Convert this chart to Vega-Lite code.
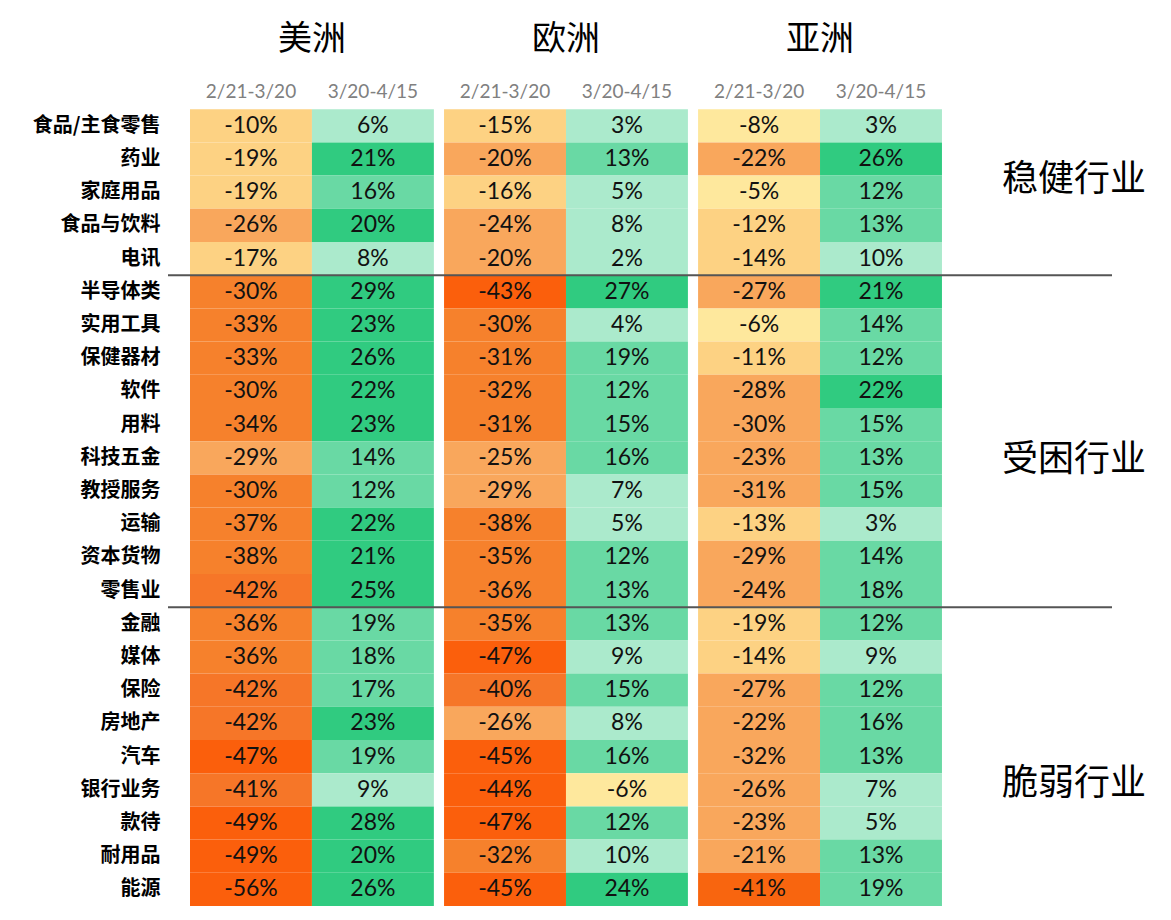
{
  "$schema": "https://vega.github.io/schema/vega-lite/v6.json",
  "width": 944,
  "height": 830,
  "autosize": {"type": "none"},
  "padding": {"left": 168, "top": 76, "right": 59, "bottom": 14},
  "background": "white",
  "config": {"view": {"stroke": null}},
  "datasets": {
    "cells": [
      {"industry":"食品/主食零售","region":"美洲","period":"2/21-3/20","value":-10},
      {"industry":"食品/主食零售","region":"美洲","period":"3/20-4/15","value":6},
      {"industry":"食品/主食零售","region":"欧洲","period":"2/21-3/20","value":-15},
      {"industry":"食品/主食零售","region":"欧洲","period":"3/20-4/15","value":3},
      {"industry":"食品/主食零售","region":"亚洲","period":"2/21-3/20","value":-8},
      {"industry":"食品/主食零售","region":"亚洲","period":"3/20-4/15","value":3},
      {"industry":"药业","region":"美洲","period":"2/21-3/20","value":-19},
      {"industry":"药业","region":"美洲","period":"3/20-4/15","value":21},
      {"industry":"药业","region":"欧洲","period":"2/21-3/20","value":-20},
      {"industry":"药业","region":"欧洲","period":"3/20-4/15","value":13},
      {"industry":"药业","region":"亚洲","period":"2/21-3/20","value":-22},
      {"industry":"药业","region":"亚洲","period":"3/20-4/15","value":26},
      {"industry":"家庭用品","region":"美洲","period":"2/21-3/20","value":-19},
      {"industry":"家庭用品","region":"美洲","period":"3/20-4/15","value":16},
      {"industry":"家庭用品","region":"欧洲","period":"2/21-3/20","value":-16},
      {"industry":"家庭用品","region":"欧洲","period":"3/20-4/15","value":5},
      {"industry":"家庭用品","region":"亚洲","period":"2/21-3/20","value":-5},
      {"industry":"家庭用品","region":"亚洲","period":"3/20-4/15","value":12},
      {"industry":"食品与饮料","region":"美洲","period":"2/21-3/20","value":-26},
      {"industry":"食品与饮料","region":"美洲","period":"3/20-4/15","value":20},
      {"industry":"食品与饮料","region":"欧洲","period":"2/21-3/20","value":-24},
      {"industry":"食品与饮料","region":"欧洲","period":"3/20-4/15","value":8},
      {"industry":"食品与饮料","region":"亚洲","period":"2/21-3/20","value":-12},
      {"industry":"食品与饮料","region":"亚洲","period":"3/20-4/15","value":13},
      {"industry":"电讯","region":"美洲","period":"2/21-3/20","value":-17},
      {"industry":"电讯","region":"美洲","period":"3/20-4/15","value":8},
      {"industry":"电讯","region":"欧洲","period":"2/21-3/20","value":-20},
      {"industry":"电讯","region":"欧洲","period":"3/20-4/15","value":2},
      {"industry":"电讯","region":"亚洲","period":"2/21-3/20","value":-14},
      {"industry":"电讯","region":"亚洲","period":"3/20-4/15","value":10},
      {"industry":"半导体类","region":"美洲","period":"2/21-3/20","value":-30},
      {"industry":"半导体类","region":"美洲","period":"3/20-4/15","value":29},
      {"industry":"半导体类","region":"欧洲","period":"2/21-3/20","value":-43},
      {"industry":"半导体类","region":"欧洲","period":"3/20-4/15","value":27},
      {"industry":"半导体类","region":"亚洲","period":"2/21-3/20","value":-27},
      {"industry":"半导体类","region":"亚洲","period":"3/20-4/15","value":21},
      {"industry":"实用工具","region":"美洲","period":"2/21-3/20","value":-33},
      {"industry":"实用工具","region":"美洲","period":"3/20-4/15","value":23},
      {"industry":"实用工具","region":"欧洲","period":"2/21-3/20","value":-30},
      {"industry":"实用工具","region":"欧洲","period":"3/20-4/15","value":4},
      {"industry":"实用工具","region":"亚洲","period":"2/21-3/20","value":-6},
      {"industry":"实用工具","region":"亚洲","period":"3/20-4/15","value":14},
      {"industry":"保健器材","region":"美洲","period":"2/21-3/20","value":-33},
      {"industry":"保健器材","region":"美洲","period":"3/20-4/15","value":26},
      {"industry":"保健器材","region":"欧洲","period":"2/21-3/20","value":-31},
      {"industry":"保健器材","region":"欧洲","period":"3/20-4/15","value":19},
      {"industry":"保健器材","region":"亚洲","period":"2/21-3/20","value":-11},
      {"industry":"保健器材","region":"亚洲","period":"3/20-4/15","value":12},
      {"industry":"软件","region":"美洲","period":"2/21-3/20","value":-30},
      {"industry":"软件","region":"美洲","period":"3/20-4/15","value":22},
      {"industry":"软件","region":"欧洲","period":"2/21-3/20","value":-32},
      {"industry":"软件","region":"欧洲","period":"3/20-4/15","value":12},
      {"industry":"软件","region":"亚洲","period":"2/21-3/20","value":-28},
      {"industry":"软件","region":"亚洲","period":"3/20-4/15","value":22},
      {"industry":"用料","region":"美洲","period":"2/21-3/20","value":-34},
      {"industry":"用料","region":"美洲","period":"3/20-4/15","value":23},
      {"industry":"用料","region":"欧洲","period":"2/21-3/20","value":-31},
      {"industry":"用料","region":"欧洲","period":"3/20-4/15","value":15},
      {"industry":"用料","region":"亚洲","period":"2/21-3/20","value":-30},
      {"industry":"用料","region":"亚洲","period":"3/20-4/15","value":15},
      {"industry":"科技五金","region":"美洲","period":"2/21-3/20","value":-29},
      {"industry":"科技五金","region":"美洲","period":"3/20-4/15","value":14},
      {"industry":"科技五金","region":"欧洲","period":"2/21-3/20","value":-25},
      {"industry":"科技五金","region":"欧洲","period":"3/20-4/15","value":16},
      {"industry":"科技五金","region":"亚洲","period":"2/21-3/20","value":-23},
      {"industry":"科技五金","region":"亚洲","period":"3/20-4/15","value":13},
      {"industry":"教授服务","region":"美洲","period":"2/21-3/20","value":-30},
      {"industry":"教授服务","region":"美洲","period":"3/20-4/15","value":12},
      {"industry":"教授服务","region":"欧洲","period":"2/21-3/20","value":-29},
      {"industry":"教授服务","region":"欧洲","period":"3/20-4/15","value":7},
      {"industry":"教授服务","region":"亚洲","period":"2/21-3/20","value":-31},
      {"industry":"教授服务","region":"亚洲","period":"3/20-4/15","value":15},
      {"industry":"运输","region":"美洲","period":"2/21-3/20","value":-37},
      {"industry":"运输","region":"美洲","period":"3/20-4/15","value":22},
      {"industry":"运输","region":"欧洲","period":"2/21-3/20","value":-38},
      {"industry":"运输","region":"欧洲","period":"3/20-4/15","value":5},
      {"industry":"运输","region":"亚洲","period":"2/21-3/20","value":-13},
      {"industry":"运输","region":"亚洲","period":"3/20-4/15","value":3},
      {"industry":"资本货物","region":"美洲","period":"2/21-3/20","value":-38},
      {"industry":"资本货物","region":"美洲","period":"3/20-4/15","value":21},
      {"industry":"资本货物","region":"欧洲","period":"2/21-3/20","value":-35},
      {"industry":"资本货物","region":"欧洲","period":"3/20-4/15","value":12},
      {"industry":"资本货物","region":"亚洲","period":"2/21-3/20","value":-29},
      {"industry":"资本货物","region":"亚洲","period":"3/20-4/15","value":14},
      {"industry":"零售业","region":"美洲","period":"2/21-3/20","value":-42},
      {"industry":"零售业","region":"美洲","period":"3/20-4/15","value":25},
      {"industry":"零售业","region":"欧洲","period":"2/21-3/20","value":-36},
      {"industry":"零售业","region":"欧洲","period":"3/20-4/15","value":13},
      {"industry":"零售业","region":"亚洲","period":"2/21-3/20","value":-24},
      {"industry":"零售业","region":"亚洲","period":"3/20-4/15","value":18},
      {"industry":"金融","region":"美洲","period":"2/21-3/20","value":-36},
      {"industry":"金融","region":"美洲","period":"3/20-4/15","value":19},
      {"industry":"金融","region":"欧洲","period":"2/21-3/20","value":-35},
      {"industry":"金融","region":"欧洲","period":"3/20-4/15","value":13},
      {"industry":"金融","region":"亚洲","period":"2/21-3/20","value":-19},
      {"industry":"金融","region":"亚洲","period":"3/20-4/15","value":12},
      {"industry":"媒体","region":"美洲","period":"2/21-3/20","value":-36},
      {"industry":"媒体","region":"美洲","period":"3/20-4/15","value":18},
      {"industry":"媒体","region":"欧洲","period":"2/21-3/20","value":-47},
      {"industry":"媒体","region":"欧洲","period":"3/20-4/15","value":9},
      {"industry":"媒体","region":"亚洲","period":"2/21-3/20","value":-14},
      {"industry":"媒体","region":"亚洲","period":"3/20-4/15","value":9},
      {"industry":"保险","region":"美洲","period":"2/21-3/20","value":-42},
      {"industry":"保险","region":"美洲","period":"3/20-4/15","value":17},
      {"industry":"保险","region":"欧洲","period":"2/21-3/20","value":-40},
      {"industry":"保险","region":"欧洲","period":"3/20-4/15","value":15},
      {"industry":"保险","region":"亚洲","period":"2/21-3/20","value":-27},
      {"industry":"保险","region":"亚洲","period":"3/20-4/15","value":12},
      {"industry":"房地产","region":"美洲","period":"2/21-3/20","value":-42},
      {"industry":"房地产","region":"美洲","period":"3/20-4/15","value":23},
      {"industry":"房地产","region":"欧洲","period":"2/21-3/20","value":-26},
      {"industry":"房地产","region":"欧洲","period":"3/20-4/15","value":8},
      {"industry":"房地产","region":"亚洲","period":"2/21-3/20","value":-22},
      {"industry":"房地产","region":"亚洲","period":"3/20-4/15","value":16},
      {"industry":"汽车","region":"美洲","period":"2/21-3/20","value":-47},
      {"industry":"汽车","region":"美洲","period":"3/20-4/15","value":19},
      {"industry":"汽车","region":"欧洲","period":"2/21-3/20","value":-45},
      {"industry":"汽车","region":"欧洲","period":"3/20-4/15","value":16},
      {"industry":"汽车","region":"亚洲","period":"2/21-3/20","value":-32},
      {"industry":"汽车","region":"亚洲","period":"3/20-4/15","value":13},
      {"industry":"银行业务","region":"美洲","period":"2/21-3/20","value":-41},
      {"industry":"银行业务","region":"美洲","period":"3/20-4/15","value":9},
      {"industry":"银行业务","region":"欧洲","period":"2/21-3/20","value":-44},
      {"industry":"银行业务","region":"欧洲","period":"3/20-4/15","value":-6},
      {"industry":"银行业务","region":"亚洲","period":"2/21-3/20","value":-26},
      {"industry":"银行业务","region":"亚洲","period":"3/20-4/15","value":7},
      {"industry":"款待","region":"美洲","period":"2/21-3/20","value":-49},
      {"industry":"款待","region":"美洲","period":"3/20-4/15","value":28},
      {"industry":"款待","region":"欧洲","period":"2/21-3/20","value":-47},
      {"industry":"款待","region":"欧洲","period":"3/20-4/15","value":12},
      {"industry":"款待","region":"亚洲","period":"2/21-3/20","value":-23},
      {"industry":"款待","region":"亚洲","period":"3/20-4/15","value":5},
      {"industry":"耐用品","region":"美洲","period":"2/21-3/20","value":-49},
      {"industry":"耐用品","region":"美洲","period":"3/20-4/15","value":20},
      {"industry":"耐用品","region":"欧洲","period":"2/21-3/20","value":-32},
      {"industry":"耐用品","region":"欧洲","period":"3/20-4/15","value":10},
      {"industry":"耐用品","region":"亚洲","period":"2/21-3/20","value":-21},
      {"industry":"耐用品","region":"亚洲","period":"3/20-4/15","value":13},
      {"industry":"能源","region":"美洲","period":"2/21-3/20","value":-56},
      {"industry":"能源","region":"美洲","period":"3/20-4/15","value":26},
      {"industry":"能源","region":"欧洲","period":"2/21-3/20","value":-45},
      {"industry":"能源","region":"欧洲","period":"3/20-4/15","value":24},
      {"industry":"能源","region":"亚洲","period":"2/21-3/20","value":-41},
      {"industry":"能源","region":"亚洲","period":"3/20-4/15","value":19}
    ]
  },
  "layer": [
    {
      "data": {"name": "cells"},
      "transform": [{"filter": "datum.region != '亚洲'"}],
      "mark": {"type": "rect"},
      "encoding": {
        "x": {
          "field": "region", "type": "nominal", "title": null,
          "scale": {"domain": ["美洲", "欧洲", "亚洲", "分组"], "range": [22, 1028], "paddingInner": 0.04, "paddingOuter": 0},
          "axis": {"orient": "top", "domain": false, "ticks": false, "labelPadding": 20, "labelFontSize": 34, "labelFont": "Noto Sans CJK SC", "labelColor": "#000000", "labelAngle": 0, "labelExpr": "datum.value == '分组' ? '' : datum.value"}
        },
        "xOffset": {"field": "period", "type": "nominal", "scale": {"domain": ["2/21-3/20", "3/20-4/15"], "paddingInner": 0, "paddingOuter": 0}},
        "y": {
          "field": "industry", "type": "nominal", "title": null,
          "scale": {"domain": ["hdr", "食品/主食零售","药业","家庭用品","食品与饮料","电讯","半导体类","实用工具","保健器材","软件","用料","科技五金","教授服务","运输","资本货物","零售业","金融","媒体","保险","房地产","汽车","银行业务","款待","耐用品","能源"], "paddingInner": 0, "paddingOuter": 0},
          "axis": {"domain": false, "ticks": false, "labelPadding": 8, "labelFontSize": 20, "labelFont": "Noto Sans CJK SC", "labelFontWeight": "bold", "labelColor": "#000000", "labelExpr": "datum.value == 'hdr' ? '' : datum.value"}
        },
        "color": {
          "field": "value", "type": "quantitative", "legend": null,
          "scale": {"type": "threshold", "domain": [-42.5, -39.5, -29.5, -19.5, -9.5, 0, 10.5, 19.5], "range": ["#fb5f0c", "#f67628", "#f6812c", "#f9a75c", "#fdd283", "#fee89d", "#abeacc", "#69d9a4", "#30cb80"]}
        }
      }
    },
    {
      "data": {"name": "cells"},
      "transform": [{"filter": "datum.region == '亚洲'"}],
      "mark": {"type": "rect"},
      "encoding": {
        "x": {"field": "region", "type": "nominal"},
        "xOffset": {"field": "period", "type": "nominal"},
        "y": {"field": "industry", "type": "nominal"},
        "color": {
          "field": "value", "type": "quantitative", "legend": null,
          "scale": {"type": "threshold", "domain": [-39.5, -19.5, -9.5, 0, 10.5, 19.5], "range": ["#f8650f", "#f9a75c", "#fdd283", "#fee89d", "#abeacc", "#69d9a4", "#30cb80"]}
        }
      }
    },
    {
      "data": {"name": "cells"},
      "transform": [{"calculate": "datum.value + '%'", "as": "label"}],
      "mark": {"type": "text", "font": "Lato", "fontSize": 23, "color": "#111111", "baseline": "middle", "align": "center"},
      "encoding": {
        "x": {"field": "region", "type": "nominal"},
        "xOffset": {"field": "period", "type": "nominal"},
        "y": {"field": "industry", "type": "nominal"},
        "text": {"field": "label", "type": "nominal"}
      }
    },
    {
      "data": {"values": [
        {"region": "美洲", "period": "2/21-3/20", "industry": "hdr"},
        {"region": "美洲", "period": "3/20-4/15", "industry": "hdr"},
        {"region": "欧洲", "period": "2/21-3/20", "industry": "hdr"},
        {"region": "欧洲", "period": "3/20-4/15", "industry": "hdr"},
        {"region": "亚洲", "period": "2/21-3/20", "industry": "hdr"},
        {"region": "亚洲", "period": "3/20-4/15", "industry": "hdr"}
      ]},
      "mark": {"type": "text", "font": "Lato", "fontSize": 19, "color": "#808080", "baseline": "middle", "align": "center", "dy": -1},
      "encoding": {
        "x": {"field": "region", "type": "nominal"},
        "xOffset": {"field": "period", "type": "nominal"},
        "y": {"field": "industry", "type": "nominal"},
        "text": {"field": "period", "type": "nominal"}
      }
    },
    {
      "data": {"values": [{"industry": "半导体类"}, {"industry": "金融"}]},
      "mark": {"type": "rule", "color": "#555555", "strokeWidth": 2},
      "encoding": {
        "y": {"field": "industry", "type": "nominal", "bandPosition": 0}
      }
    },
    {
      "data": {"values": [{"region": "分组", "industry": "家庭用品", "group": "稳健行业"}]},
      "mark": {"type": "text", "font": "Noto Sans CJK SC", "fontSize": 36, "color": "#000000", "baseline": "middle", "align": "center", "dy": -12},
      "encoding": {
        "x": {"field": "region", "type": "nominal"},
        "y": {"field": "industry", "type": "nominal"},
        "text": {"field": "group", "type": "nominal"}
      }
    },
    {
      "data": {"values": [{"region": "分组", "industry": "科技五金", "group": "受困行业"}]},
      "mark": {"type": "text", "font": "Noto Sans CJK SC", "fontSize": 36, "color": "#000000", "baseline": "middle", "align": "center", "dy": 2},
      "encoding": {
        "x": {"field": "region", "type": "nominal"},
        "y": {"field": "industry", "type": "nominal"},
        "text": {"field": "group", "type": "nominal"}
      }
    },
    {
      "data": {"values": [{"region": "分组", "industry": "银行业务", "group": "脆弱行业"}]},
      "mark": {"type": "text", "font": "Noto Sans CJK SC", "fontSize": 36, "color": "#000000", "baseline": "middle", "align": "center", "dy": -6},
      "encoding": {
        "x": {"field": "region", "type": "nominal"},
        "y": {"field": "industry", "type": "nominal"},
        "text": {"field": "group", "type": "nominal"}
      }
    }
  ],
  "resolve": {"scale": {"color": "independent"}}
}
